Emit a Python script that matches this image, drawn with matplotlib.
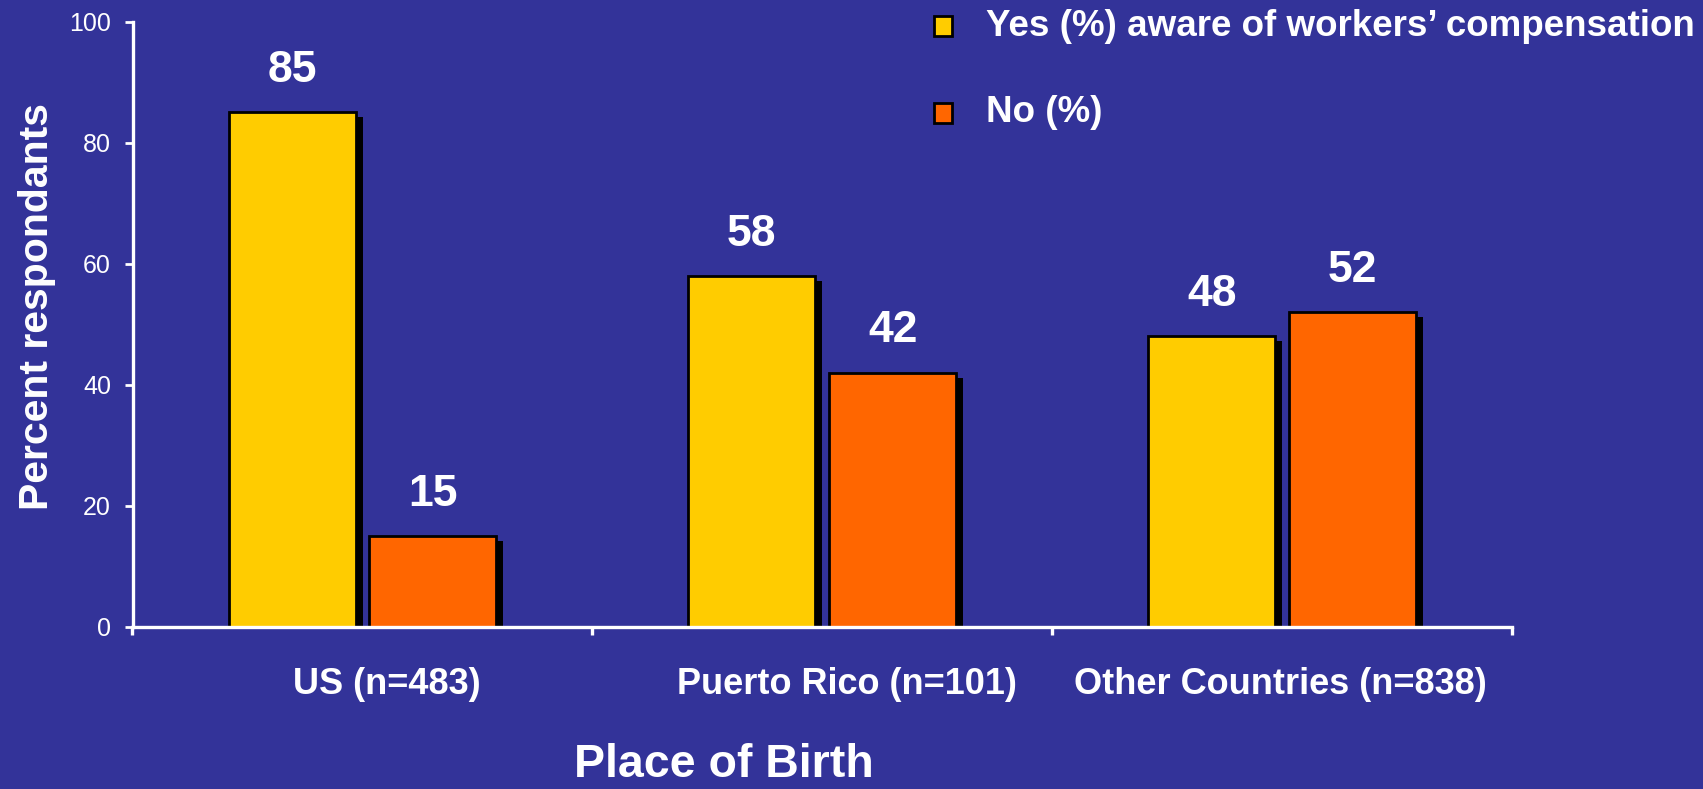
import matplotlib
matplotlib.use("Agg")
import matplotlib.pyplot as plt
import matplotlib.transforms as mtransforms
from matplotlib.patches import Rectangle

# Data
categories = ["US (n=483)", "Puerto Rico (n=101)", "Other Countries (n=838)"]
series_names = ["Yes (%) aware of workers\u2019 compensation", "No (%)"]
yes_values = [85, 58, 48]
no_values = [15, 42, 52]
y_ticks = [0, 20, 40, 60, 80, 100]

BG = "#333399"
YELLOW = "#FFCC00"
ORANGE = "#FF6600"
FONT = ["Liberation Sans", "DejaVu Sans"]

plt.rcParams["font.family"] = FONT

W, H = 1703, 789
fig = plt.figure(figsize=(W / 100, H / 100), dpi=100, facecolor=BG)
ax = fig.add_axes([132.5 / W, 1 - 626.7 / H, (1512 - 132.5) / W, (626.7 - 21.7) / H])
ax.set_facecolor(BG)

n = len(categories)
xs = list(range(n))
bw = 0.276
gap = 0.03
offs = [-(bw + gap) / 2, (bw + gap) / 2]

shadow = ax.transData + mtransforms.ScaledTranslation(0.07, -0.05, fig.dpi_scale_trans)

for vals, col, off in [(yes_values, YELLOW, offs[0]), (no_values, ORANGE, offs[1])]:
    pos = [x + off for x in xs]
    sb = ax.bar(pos, vals, width=bw, color="black", zorder=1)
    for p in sb.patches:
        p.set_transform(shadow)
    bars = ax.bar(pos, vals, width=bw, color=col, edgecolor="black",
                  linewidth=2, zorder=2)
    for p, v in zip(bars.patches, vals):
        ax.annotate(f"{v}", (p.get_x() + p.get_width() / 2, v),
                    xytext=(0, 30), textcoords="offset points",
                    ha="center", va="center", color="white",
                    fontsize=32, fontweight="bold")

ax.set_xlim(-0.5, n - 0.5)
ax.set_ylim(0, 100)

for s in ["top", "right"]:
    ax.spines[s].set_visible(False)
for s in ["left", "bottom"]:
    ax.spines[s].set_color("white")
    ax.spines[s].set_linewidth(2.4)
    ax.spines[s].set_zorder(3)

ax.set_yticks(y_ticks)
ax.set_yticklabels([str(t) for t in y_ticks])
ax.tick_params(axis="y", colors="white", labelsize=18, length=5.5, width=2,
               pad=10, direction="out")

# category boundaries carry the tick marks; names sit between them
ax.set_xticks([i - 0.5 for i in range(n + 1)])
ax.set_xticklabels([])
ax.tick_params(axis="x", which="major", colors="white", length=6, width=2.4,
               direction="out")
label_pos = [0.054, 1.054, 1.997]
ax.set_xticks(label_pos, minor=True)
ax.set_xticklabels(categories, minor=True)
ax.tick_params(axis="x", which="minor", length=0, pad=29, labelsize=26,
               labelcolor="white")
for t in ax.get_xticklabels(minor=True):
    t.set_fontweight("bold")

fig.text(37 / W, 1 - 307 / H, "Percent respondants", rotation=90,
         ha="center", va="center", color="white", fontsize=29.5,
         fontweight="bold")
fig.text(724 / W, 1 - 765 / H, "Place of Birth", ha="center", va="center",
         color="white", fontsize=33.5, fontweight="bold")

# legend entries
legend_rows = [(series_names[0], YELLOW, 26), (series_names[1], ORANGE, 113)]
for name, col, yc in legend_rows:
    fig.patches.append(Rectangle((934 / W, 1 - (yc + 9.5) / H), 18 / W, 19 / H,
                                 transform=fig.transFigure, facecolor=col,
                                 edgecolor="black", linewidth=2))
    fig.text(986 / W, 1 - yc / H, name, ha="left", va="center", color="white",
             fontsize=26.5, fontweight="bold")

fig.savefig("out.png", dpi=100, facecolor=BG)
